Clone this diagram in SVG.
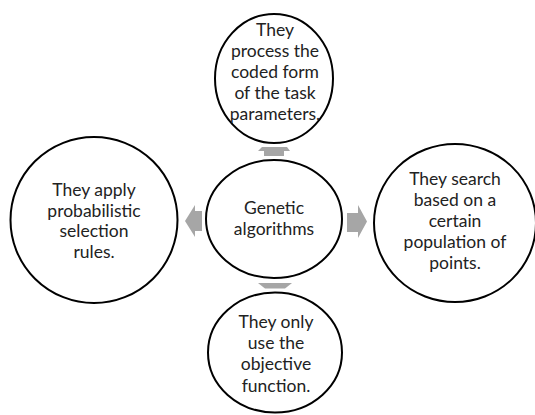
<svg xmlns="http://www.w3.org/2000/svg" width="535" height="415" viewBox="0 0 535 415">
<style>
.node{fill:#ffffff;stroke:#000000;stroke-width:2}
.arrow{fill:#a6a6a6;stroke:none}
text{font-family:Lato,"Open Sans","Liberation Sans",sans-serif;font-size:17.5px;fill:#222222;text-anchor:middle}
</style>
<rect width="535" height="415" fill="#ffffff"/>
<g id="connectors">
<polygon class="arrow" points="262,147 287,147 290,151 284,151 284,156 264,156 264,151 258,151"/>
<polygon class="arrow" points="258,283 292,283 285,288.5 265,288.5"/>
<polygon class="arrow" points="185,221 195,205 195,211 202,211 202,231 195,231 195,237"/>
<polygon class="arrow" points="347,213 358,213 358,205 367,221.5 358,238 358,232 347,232"/>
</g>
<g id="center">
<ellipse class="node" cx="274" cy="219" rx="68" ry="59"/>
<text x="274" y="214">Genetic</text>
<text x="274" y="234.5">algorithms</text>
</g>
<g id="top">
<ellipse class="node" cx="274" cy="78.5" rx="59" ry="64.5"/>
<text x="275" y="36">They</text>
<text x="275" y="57">process the</text>
<text x="275" y="78">coded form</text>
<text x="275" y="99">of the task</text>
<text x="275" y="120">parameters.</text>
</g>
<g id="left">
<ellipse class="node" cx="94" cy="220" rx="83.5" ry="83"/>
<text x="94" y="196">They apply</text>
<text x="94" y="216.5">probabilistic</text>
<text x="94" y="237">selection</text>
<text x="94" y="257.5">rules.</text>
</g>
<g id="right">
<ellipse class="node" cx="455" cy="223" rx="81" ry="79"/>
<text x="455" y="185">They search</text>
<text x="455" y="206">based on a</text>
<text x="455" y="227">certain</text>
<text x="455" y="248">population of</text>
<text x="455" y="269">points.</text>
</g>
<g id="bottom">
<ellipse class="node" cx="275" cy="352.5" rx="67" ry="60"/>
<text x="276" y="328">They only</text>
<text x="276" y="349">use the</text>
<text x="276" y="370">objective</text>
<text x="276" y="391.5">function.</text>
</g>
</svg>
